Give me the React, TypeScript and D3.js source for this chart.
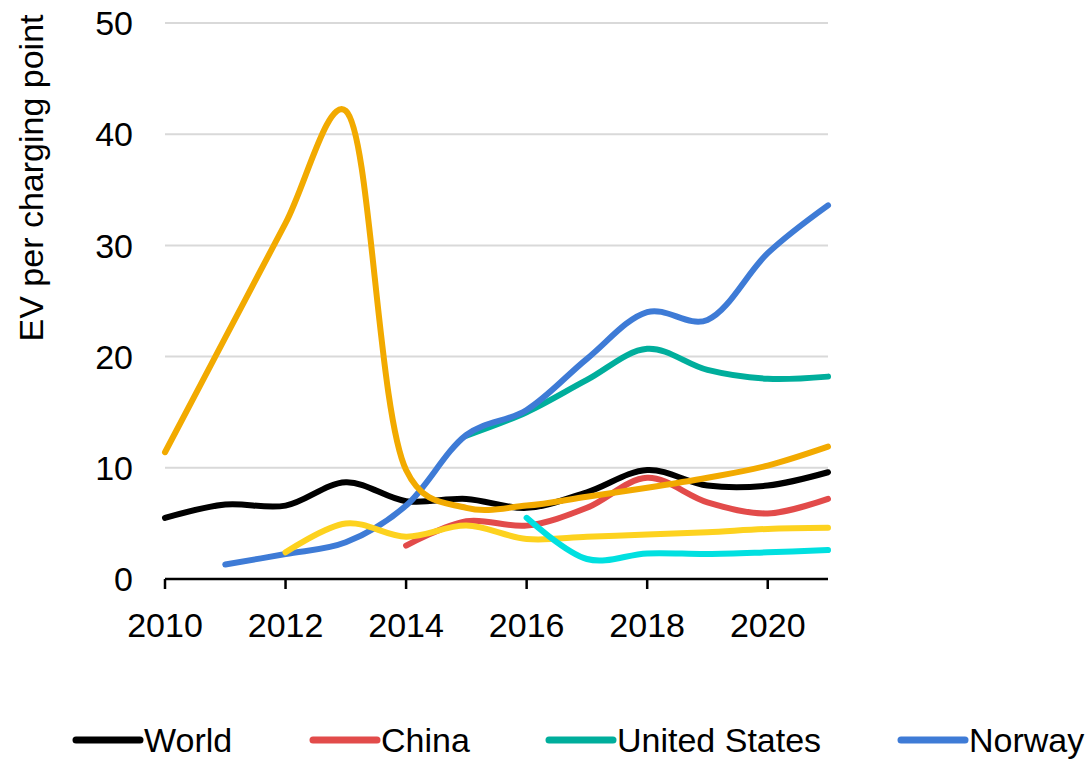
import React from "react";
import * as d3 from "d3";

const years = [2010, 2011, 2012, 2013, 2014, 2015, 2016, 2017, 2018, 2019, 2020, 2021];
type V = number | null;

const world: V[] = [5.5, 6.7, 6.6, 8.7, 7.0, 7.2, 6.4, 7.8, 9.8, 8.4, 8.4, 9.6];
const china: V[] = [null, null, null, null, 3.0, 5.2, 4.8, 6.4, 9.1, 6.9, 5.9, 7.2];
const unitedStates: V[] = [null, null, null, null, null, 12.9, 15.0, 17.9, 20.7, 18.8, 18.0, 18.2];
const norway: V[] = [null, 1.3, 2.25, 3.3, 6.6, 12.95, 15.2, 19.8, 24.0, 23.3, 29.3, 33.6];
const orangeSeries: V[] = [11.4, 21.7, 32.0, 42.1, 9.8, 6.4, 6.6, 7.4, 8.2, 9.1, 10.2, 11.9];
const yellowSeries: V[] = [null, null, 2.4, 5.0, 3.8, 4.8, 3.6, 3.8, 4.0, 4.2, 4.5, 4.6];
const cyanSeries: V[] = [null, null, null, null, null, null, 5.5, 1.8, 2.3, 2.25, 2.4, 2.6];

const yTicks = [0, 10, 20, 30, 40, 50];
const xTicks = [2010, 2012, 2014, 2016, 2018, 2020];

const series = [
  { name: "Orange", values: orangeSeries, color: "#F2AA00" },
  { name: "Yellow", values: yellowSeries, color: "#FDD21F" },
  { name: "Cyan", values: cyanSeries, color: "#00E0E0" },
  { name: "World", values: world, color: "#000000" },
  { name: "China", values: china, color: "#E24B4A" },
  { name: "United States", values: unitedStates, color: "#00AE9C" },
  { name: "Norway", values: norway, color: "#3E7BD6" },
];
const drawOrder = ["World", "China", "United States", "Norway", "Yellow", "Cyan", "Orange"];

const legendItems = ["World", "China", "United States", "Norway"];
const legendX = [76, 313, 549, 901];

const FONT = "'Liberation Sans', Arial, sans-serif";

export default function App() {
  const x = d3.scaleLinear().domain([2010, 2021]).range([165, 828]);
  const y = d3.scaleLinear().domain([0, 50]).range([579, 23]);

  const line = d3
    .line<[number, number]>()
    .x((d) => x(d[0]))
    .y((d) => y(d[1]))
    .curve(d3.curveCatmullRom.alpha(0.3));

  const pathFor = (vals: V[]) => {
    const pts: [number, number][] = [];
    vals.forEach((v, i) => {
      if (v !== null) pts.push([years[i], v]);
    });
    return line(pts) || "";
  };

  return (
    <svg
      width={1088}
      height={759}
      style={{ position: "absolute", left: 0, top: 0, background: "#fff" }}
      fontFamily={FONT}
    >
      {yTicks
        .filter((t) => t > 0)
        .map((t) => (
          <line key={t} x1={x(2010)} x2={x(2021)} y1={y(t)} y2={y(t)} stroke="#D9D9D9" strokeWidth={2} />
        ))}
      {yTicks.map((t) => (
        <text key={t} x={133} y={y(t)} dy="0.36em" textAnchor="end" fontSize={34} fill="#000">
          {t}
        </text>
      ))}
      {drawOrder.map((n) => {
        const s = series.find((q) => q.name === n)!;
        return (
          <path
            key={n}
            d={pathFor(s.values)}
            fill="none"
            stroke={s.color}
            strokeWidth={6}
            strokeLinecap="round"
            strokeLinejoin="round"
          />
        );
      })}
      <line x1={x(2010)} x2={x(2021)} y1={y(0)} y2={y(0)} stroke="#000" strokeWidth={2.5} />
      {xTicks.map((t) => (
        <g key={t}>
          <line x1={x(t)} x2={x(t)} y1={y(0)} y2={y(0) + 10} stroke="#000" strokeWidth={2.5} />
          <text x={x(t)} y={637} textAnchor="middle" fontSize={34} fill="#000">
            {t}
          </text>
        </g>
      ))}
      <text
        transform={`translate(43,178) rotate(-90)`}
        textAnchor="middle"
        fontSize={34}
        fill="#000"
      >
        EV per charging point
      </text>
      {legendItems.map((n, i) => {
        const s = series.find((q) => q.name === n)!;
        const lx = legendX[i];
        return (
          <g key={n}>
            <line x1={lx} x2={lx + 64} y1={740} y2={740} stroke={s.color} strokeWidth={7} strokeLinecap="round" />
            <text x={lx + 68} y={752} fontSize={34} fill="#000">
              {n}
            </text>
          </g>
        );
      })}
    </svg>
  );
}
